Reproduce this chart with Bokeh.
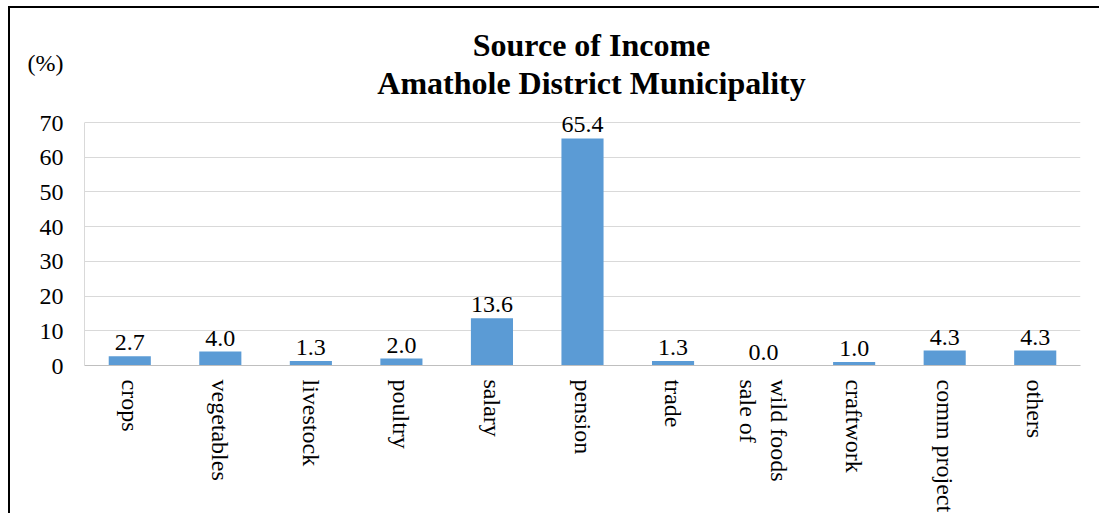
from bokeh.plotting import figure
from bokeh.models import ColumnDataSource, FactorRange, Range1d, FixedTicker, LabelSet, Label
from bokeh.core.properties import value
from bokeh.embed import file_html
from bokeh.resources import INLINE

categories = ["crops", "vegetables", "livestock", "poultry", "salary", "pension",
              "trade", "wild foods\nsale of", "craftwork", "comm project", "others"]
values = [2.7, 4.0, 1.3, 2.0, 13.6, 65.4, 1.3, 0.0, 1.0, 4.3, 4.3]
y_ticks = [0, 10, 20, 30, 40, 50, 60, 70]
title_lines = ["Source of Income", "Amathole District Municipality"]
unit_label = "(%)"

FONT = "Liberation Serif"
Y_TOP = 102.84          # frame extends up to the top so the header sits inside it
UNIT_POS = 87.0         # vertical spot of the "(%)" unit text, in axis units
TITLE_Y = [89.3, 78.35]  # title baselines, in axis units

src = ColumnDataSource(dict(cat=categories, val=values,
                            lab=[f"{v:.1f}" for v in values]))

p = figure(frame_width=996, frame_height=357, output_backend="svg", toolbar_location=None,
           x_range=FactorRange(*categories, range_padding=0),
           y_range=Range1d(0, Y_TOP),
           min_border_left=74, min_border_right=19, min_border_top=0, min_border_bottom=148)
p.styles = {"border-left": "2px solid black", "border-top": "2px solid black",
            "margin-left": "8px", "margin-top": "6px"}
p.outline_line_color = None
p.background_fill_color = "white"
p.border_fill_color = "white"

p.vbar(x="cat", top="val", width=0.465, source=src, color="#5b9bd5", line_color=None)

p.add_layout(LabelSet(x="cat", y="val", text="lab", source=src, text_align="center",
                      text_baseline="alphabetic", y_offset=6,
                      text_font=value(FONT), text_font_size="24px", text_color="black"))

# y axis: ticks 0..70, plus the "(%)" unit text placed above the axis
p.yaxis.ticker = FixedTicker(ticks=y_ticks + [UNIT_POS])
p.yaxis.major_label_overrides = {UNIT_POS: unit_label}
p.yaxis.bounds = (0, 70)
p.yaxis.axis_line_color = "#d9d9d9"
p.yaxis.major_tick_line_color = None
p.yaxis.major_tick_out = 0
p.yaxis.major_tick_in = 0
p.yaxis.minor_tick_line_color = None
p.yaxis.major_label_standoff = 21
p.yaxis.major_label_text_font = FONT
p.yaxis.major_label_text_font_size = "24px"
p.yaxis.major_label_text_color = "black"

p.xaxis.axis_line_color = "#bfbfbf"
p.xaxis.major_tick_line_color = None
p.xaxis.major_tick_out = 0
p.xaxis.major_tick_in = 0
p.xaxis.minor_tick_line_color = None
p.xaxis.major_label_orientation = "vertical"
p.xaxis.major_label_standoff = 14
p.xaxis.major_label_text_font = FONT
p.xaxis.major_label_text_font_size = "24px"
p.xaxis.major_label_text_color = "black"

p.xgrid.grid_line_color = None
p.ygrid.ticker = FixedTicker(ticks=y_ticks)
p.ygrid.grid_line_color = "#d9d9d9"

for txt, ty in zip(title_lines, TITLE_Y):
    p.add_layout(Label(x=507, x_units="screen", y=ty, y_units="data", y_offset=11, text=txt,
                       text_align="center", text_baseline="alphabetic", text_font=FONT,
                       text_font_style="bold", text_font_size="32px", text_color="black"))

open("out.html", "w").write(file_html(p, INLINE))
